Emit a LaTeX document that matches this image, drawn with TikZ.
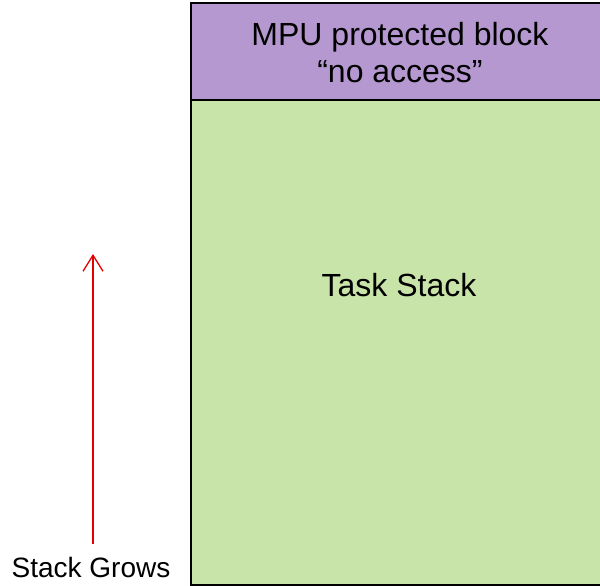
\documentclass[tikz,border=0pt]{standalone}
\usepackage{fontspec}
\setmainfont{Liberation Sans}
\usetikzlibrary{arrows.meta}
\definecolor{mpupurple}{RGB}{181,152,208}
\definecolor{stackgreen}{RGB}{201,228,168}
\definecolor{growred}{RGB}{228,0,0}

\begin{document}
\begin{tikzpicture}[x=1pt, y=-1pt,
    block/.style={draw=black, line width=1.5pt},
    bigtext/.style={font=\fontsize{32}{37}\selectfont, inner sep=0pt}]
  \useasboundingbox (0,0) rectangle (600,586);
  \fill[white] (0,0) rectangle (600,586);
  % the two memory blocks, right edge runs past the page
  \draw[block, fill=stackgreen] (191,100) rectangle (612,585);
  \draw[block, fill=mpupurple] (191,3) rectangle (612,100);
  \node[bigtext, align=center, anchor=north] (mpu) at (400,22) {MPU protected block\\``no access''};
  \node[bigtext, anchor=base] (task) at (399,296) {Task Stack};
  % growth arrow and its label
  \node[font=\fontsize{28}{32}\selectfont, inner sep=0pt, anchor=base] (grows) at (91,577) {Stack Grows};
  \coordinate (tail) at (93,544);
  \coordinate (tip) at (93,254);
  \draw[growred, line width=1.3pt, -{Straight Barb[length=16pt, width=20pt, line width=1.3pt]}] (tail) -- (tip);
\end{tikzpicture}
\end{document}
